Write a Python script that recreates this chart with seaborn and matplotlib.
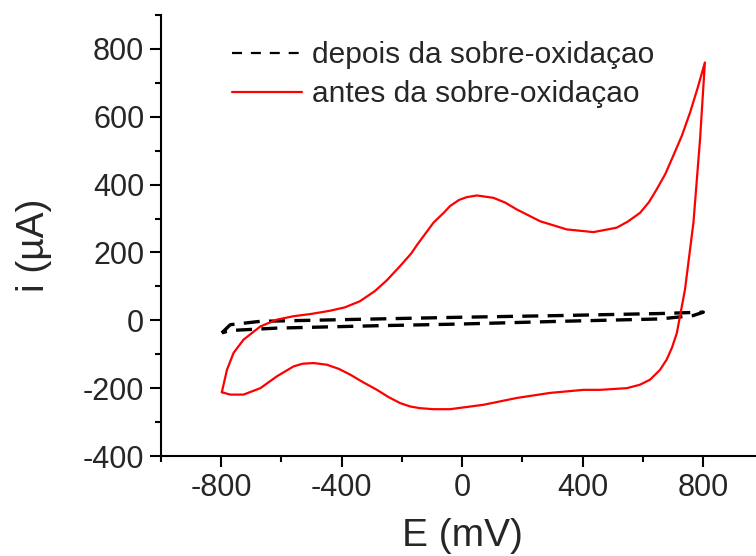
import numpy as np
import pandas as pd
import matplotlib
matplotlib.use("Agg")
import matplotlib.pyplot as plt
from matplotlib.lines import Line2D
import seaborn as sns

# Cyclic voltammogram before over-oxidation (E in mV, i in uA), one full cycle
e_antes = [-798, -781, -759, -726, -670, -615, -560, -500, -440, -390, -340, -290,
           -250, -206, -170, -150, -120, -95, -60, -40, -10, 15, 49, 104, 143, 181,
           259, 347, 436, 513, 550, 591, 620, 646, 675, 701, 730, 757, 782, 806,
           790, 768, 740, 713, 697, 679, 657, 624, 590, 547, 458, 403, 292, 181, 71,
           -40, -95, -140, -173, -206, -245, -283, -330, -372, -410, -449, -493,
           -530, -560, -615, -670, -726, -770, -798]
i_antes = [-212, -146, -96, -57, -18, 2, 12, 19, 28, 38, 56, 86,
           118, 160, 196, 222, 258, 288, 318, 337, 355, 363, 368, 361, 347, 327,
           292, 268, 260, 273, 291, 317, 348, 386, 432, 485, 545, 613, 685, 760,
           534, 288, 91, -37, -80, -116, -146, -175, -190, -200, -205, -205, -214, -229, -249,
           -262, -262, -259, -254, -244, -226, -205, -182, -160, -143, -131, -126,
           -128, -136, -165, -200, -219, -219, -212]

# Cycle after over-oxidation
e_depois = [-798, -770, -670, -394, -7, 325, 657, 801,
            767, 657, 325, -7, -283, -615, -770, -798]
i_depois = [-37, -13, -3, 2, 9, 14, 20, 24,
            14, 4, -3, -11, -16, -23, -30, -37]

x_ticks = [-800, -400, 0, 400, 800]
y_ticks = [-400, -200, 0, 200, 400, 600, 800]
label_depois = "depois da sobre-oxidaçao"
label_antes = "antes da sobre-oxidaçao"

sns.set_style("ticks")
plt.rcParams["font.family"] = ["Liberation Sans", "DejaVu Sans"]

df_antes = pd.DataFrame({"E": e_antes, "i": i_antes})
df_depois = pd.DataFrame({"E": e_depois, "i": i_depois})

fig = plt.figure(figsize=(7.56, 5.56), dpi=100)
ax = fig.add_axes([161 / 756, 100 / 556, 602.3 / 756, 441 / 556])

sns.lineplot(data=df_depois, x="E", y="i", sort=False, estimator=None, ax=ax,
             color="black", linewidth=2.4, linestyle=(0, (4.8, 2.8)))
sns.lineplot(data=df_antes, x="E", y="i", sort=False, estimator=None, ax=ax,
             color="#ff0000", linewidth=1.6)

ax.set_xlim(-1000, 1000)
ax.set_ylim(-400, 900)
ax.set_xticks(x_ticks)
ax.set_yticks(y_ticks)
ax.set_xticks(np.arange(-1000, 1001, 200), minor=True)
ax.set_yticks(np.arange(-400, 901, 100), minor=True)
ax.tick_params(which="major", length=8, width=1.5, labelsize=22, pad=4, color="black")
ax.tick_params(which="minor", length=4.5, width=1.5, color="black")
ax.set_xticklabels([str(v) for v in x_ticks])
ax.set_yticklabels([str(v) for v in y_ticks])

for side in ("top", "right"):
    ax.spines[side].set_visible(False)
for side in ("left", "bottom"):
    ax.spines[side].set_linewidth(1.5)
    ax.spines[side].set_color("black")

ax.set_xlabel("E (mV)", fontsize=28, labelpad=11)
ax.set_ylabel("i (µA)", fontsize=28)
ax.yaxis.set_label_coords(-0.181, 0.478)

handles = [
    Line2D([], [], color="black", linewidth=1.6, linestyle=(0, (4.5, 4))),
    Line2D([], [], color="#ff0000", linewidth=1.6),
]
ax.legend(handles, [label_depois, label_antes], loc="upper left",
          bbox_to_anchor=(232 / 756, 1 - 41 / 556), bbox_transform=fig.transFigure,
          frameon=False, fontsize=21.5, handlelength=2.35, handletextpad=0.33,
          labelspacing=0.37, borderpad=0, borderaxespad=0)

fig.savefig("out.png", dpi=100)
